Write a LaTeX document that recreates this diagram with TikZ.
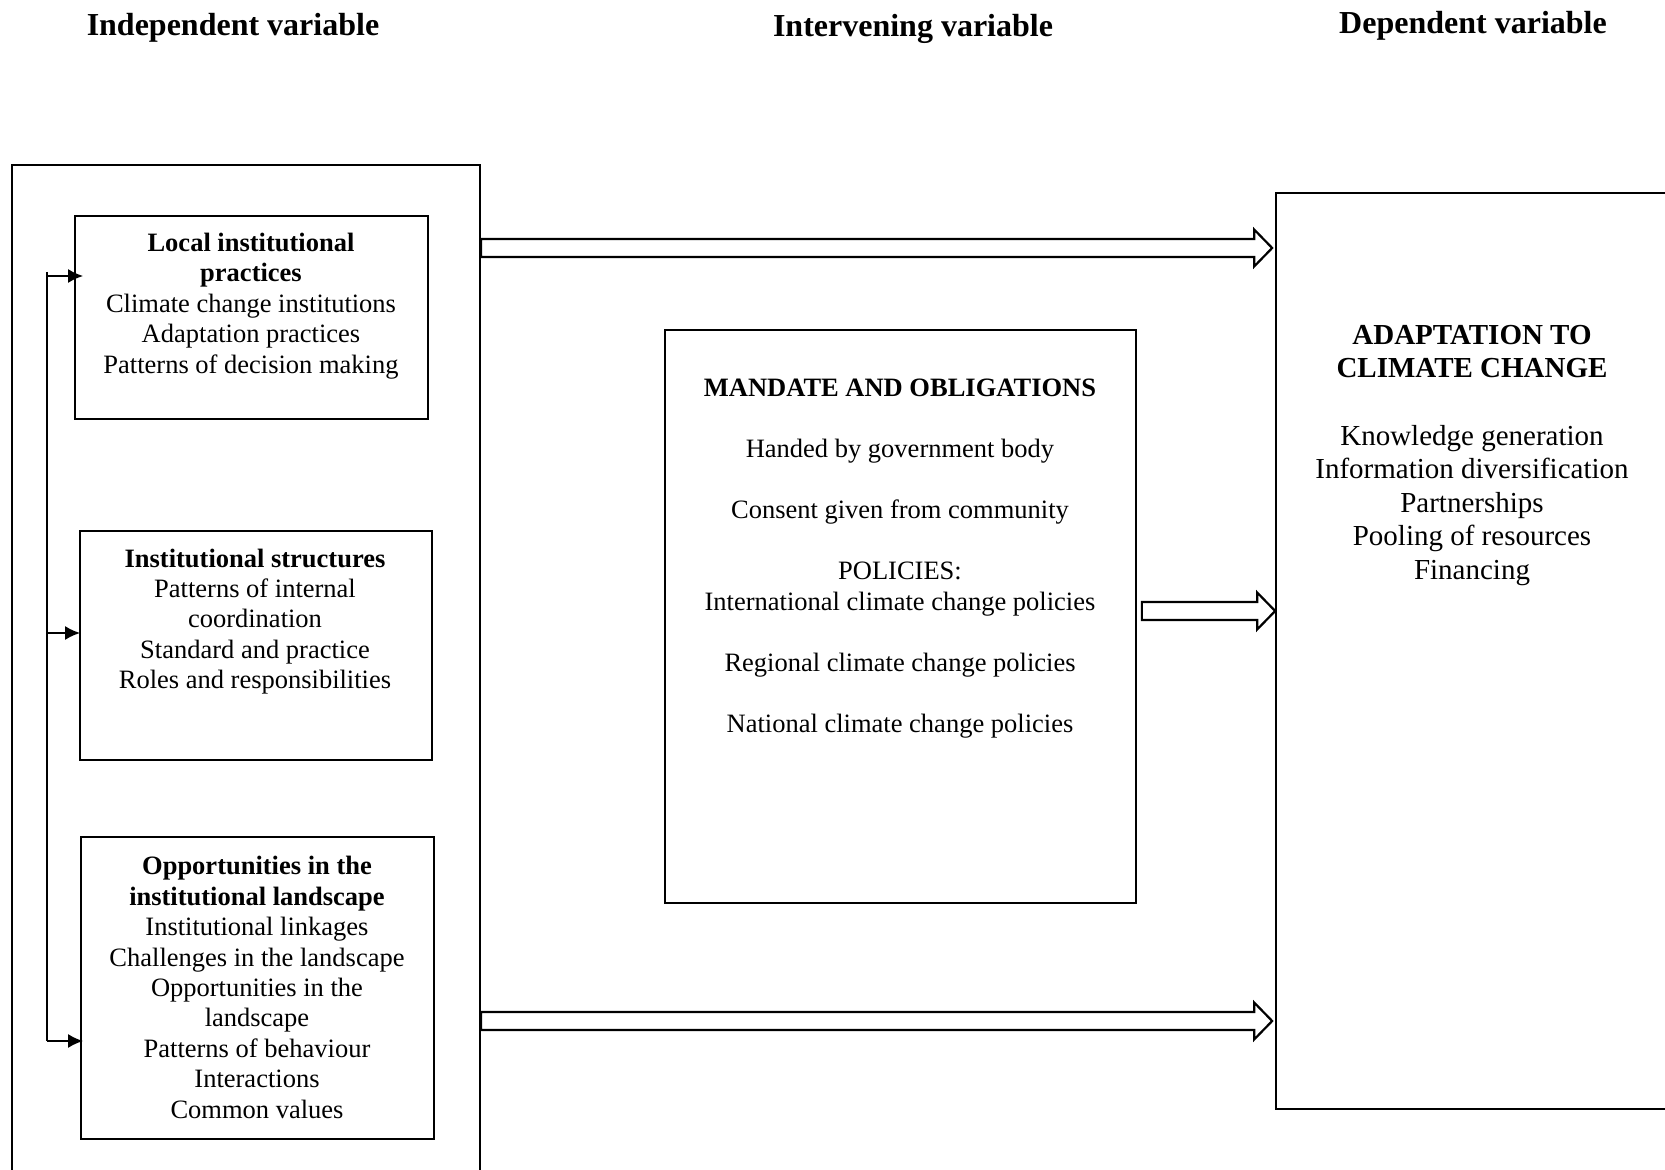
\documentclass[tikz,border=0pt]{standalone}
\usepackage{fontspec}
\setmainfont{Liberation Serif}
\usetikzlibrary{fit,arrows.meta,calc}
% outline arrow from #1 (tail) to #2 (tip)
\newcommand\hollowarrow[2]{%
  \draw[hollow] ($(#1)+(0,-9)$) -- ($(#2)+(-18,-9)$) -- ($(#2)+(-18,-18.5)$)
    -- (#2) -- ($(#2)+(-18,18.5)$) -- ($(#2)+(-18,9)$) -- ($(#1)+(0,9)$) -- cycle;}
\begin{document}
\begin{tikzpicture}[x=0.5pt,y=-0.5pt,
  frame/.style={draw, line width=1pt, inner sep=0pt},
  inbox/.style={draw, line width=0.85pt, inner sep=0pt},
  hollow/.style={draw, line width=1.1pt, line join=miter},
  feed/.style={line width=1pt},
  feedarrow/.style={line width=1pt, -{Latex[length=7.5pt,width=7pt]}},
  head/.style={inner sep=0pt, font=\fontsize{16pt}{19pt}\selectfont\bfseries},
  boxtext/.style={align=center, inner sep=0pt, font=\fontsize{13.25pt}{15.2pt}\selectfont},
  bigtext/.style={align=center, inner sep=0pt, font=\fontsize{14.5pt}{16.8pt}\selectfont},
]
\useasboundingbox (0,0) rectangle (1665,1170);
\clip (0,0) rectangle (1665,1170);

% column headings
\node[head] (hind) at (233,27.5) {Independent variable};
\node[head] (hint) at (913,28.5) {Intervening variable};
\node[head] (hdep) at (1473,25.5) {Dependent variable};

% frames
\node[frame, fit={(12,165) (480,1210)}] (outer) {};
\node[inbox, fit={(75,216) (428,419)}] (b1) {};
\node[inbox, fit={(80,531) (432,760)}] (b2) {};
\node[inbox, fit={(81,837) (434,1139)}] (b3) {};
\node[inbox, fit={(665,330) (1136,903)}] (mid) {};
\node[inbox, fit={(1276,193) (1720,1109)}] (adapt) {};

% texts
\node[boxtext] (t1) at (251,306) {\textbf{Local institutional}\\\textbf{practices}\\Climate change institutions\\Adaptation practices\\Patterns of decision making};
\node[boxtext] (t2) at (255,621.5) {\textbf{Institutional structures}\\Patterns of internal\\coordination\\Standard and practice\\Roles and responsibilities};
\node[boxtext] (t3) at (257,987.5) {\textbf{Opportunities in the}\\\textbf{institutional landscape}\\Institutional linkages\\Challenges in the landscape\\Opportunities in the\\landscape\\Patterns of behaviour\\Interactions\\Common values};
\node[boxtext] (tm) at (900,558.5) {\textbf{MANDATE AND OBLIGATIONS}\\[15.3pt]Handed by government body\\[15.3pt]Consent given from community\\[15.3pt]POLICIES:\\International climate change policies\\[15.3pt]Regional climate change policies\\[15.3pt]National climate change policies};
\node[bigtext] (ta) at (1472,455.5) {\textbf{ADAPTATION TO}\\\textbf{CLIMATE CHANGE}\\[16.8pt]Knowledge generation\\Information diversification\\Partnerships\\Pooling of resources\\Financing};

% feedback rail on the left
\coordinate (r1) at (47,276);
\coordinate (r2) at (47,633);
\coordinate (r3) at (47,1041);
\draw[feed] ($(r1)+(0,-4)$) -- (r3);
\draw[feedarrow] (r1) -- ($(r1 -| b1.west)+(9,0)$);
\draw[feedarrow] (r2) -- ($(r2 -| b2.west)+(1,0)$);
\draw[feedarrow] (r3) -- ($(r3 -| b3.west)+(3,0)$);

% outline arrows towards the dependent variable
\coordinate (y1) at (0,248);
\coordinate (y2) at (0,611);
\coordinate (y3) at (0,1021);
\coordinate (s1) at (outer.east |- y1);
\coordinate (e1) at ($(adapt.west |- y1)+(-3,0)$);
\coordinate (s2) at ($(mid.east |- y2)+(5,0)$);
\coordinate (e2) at (adapt.west |- y2);
\coordinate (s3) at (outer.east |- y3);
\coordinate (e3) at ($(adapt.west |- y3)+(-3,0)$);
\hollowarrow{s1}{e1}
\hollowarrow{s2}{e2}
\hollowarrow{s3}{e3}
\end{tikzpicture}
\end{document}
